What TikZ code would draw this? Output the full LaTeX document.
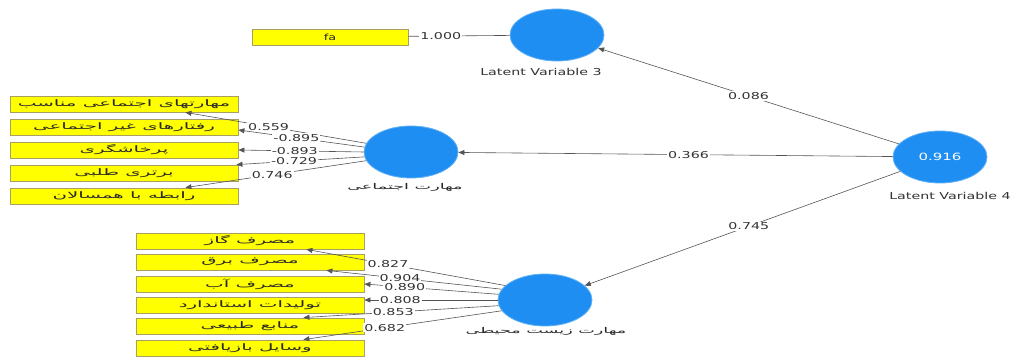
\documentclass[tikz,border=0pt]{standalone}
\usepackage{fontspec}
\setmainfont{DejaVu Sans}[FakeStretch=1.5]
\newfontfamily\fabox[Script=Arabic,FakeStretch=2.2]{DejaVu Sans}
\TeXXeTstate=1
\usetikzlibrary{arrows.meta,shapes.geometric}
\definecolor{lvblue}{HTML}{1E8EF2}
\definecolor{boxyel}{HTML}{FFFF00}
\definecolor{boxedge}{HTML}{A8A060}
\definecolor{edgecol}{HTML}{555555}
\definecolor{txt}{HTML}{333333}
\tikzset{
  lv/.style={ellipse, fill=lvblue, draw=lvblue!70!white, line width=0.8pt, minimum width=94pt, minimum height=52pt, inner sep=0pt},
  ind/.style={rectangle, fill=boxyel, draw=boxedge, line width=0.8pt, minimum width=228pt, minimum height=16pt, inner sep=0pt, text=black!85, font=\fabox\fontsize{9}{9}\selectfont},
  lvlab/.style={text=txt, font=\fontsize{9.5}{10}\selectfont},
  falab/.style={text=black!85, font=\fabox\fontsize{8}{9}\selectfont},
  coef/.style={fill=white, inner sep=1pt, text=txt, font=\fontsize{9.5}{10}\selectfont},
  link/.style={draw=edgecol, line width=0.6pt},
  arr/.style={link, -{Triangle[length=6pt,width=5pt]}}
}
\begin{document}
\begin{tikzpicture}[x=1pt,y=-1pt]
\useasboundingbox (0,0) rectangle (1034,358);
% latent variables
\node[lv] (lv3) at (557,35) {};
\node[lvlab] (lv3l) at (541,72) {Latent Variable 3};
\node[lv] (lv4) at (940,157) {\textcolor{white}{0.916}};
\node[lvlab] (lv4l) at (950,196) {Latent Variable 4};
\node[lv] (soc) at (411,152) {};
\node[falab] (socl) at (405,187) {\beginR مهارت اجتماعی\endR};
\node[lv] (env) at (545,300) {};
\node[falab] (envl) at (546,331) {\beginR مهارت زیست محیطی\endR};
% indicators
\node[ind, minimum width=156pt, font=\fontsize{8.5}{9}\selectfont] (fa) at (330,37) {fa};
\node[ind] (s1) at (124,104) {\beginR مهارتهای اجتماعی مناسب\endR};
\node[ind] (s2) at (124,127) {\beginR رفتارهای غیر اجتماعی\endR};
\node[ind] (s3) at (124,150) {\beginR پرخاشگری\endR};
\node[ind] (s4) at (124,173) {\beginR برتری طلبی\endR};
\node[ind] (s5) at (124,196) {\beginR رابطه با همسالان\endR};
\node[ind] (e1) at (250,241) {\beginR مصرف گاز\endR};
\node[ind] (e2) at (250,262) {\beginR مصرف برق\endR};
\node[ind] (e3) at (250,284) {\beginR مصرف آب\endR};
\node[ind] (e4) at (250,305) {\beginR تولیدات استاندارد\endR};
\node[ind] (e5) at (250,326) {\beginR منابع طبیعی\endR};
\node[ind] (e6) at (250,348) {\beginR وسایل بازیافتی\endR};
% structural paths
\draw[link] (fa) -- node[coef, pos=0.32] {1.000} (lv3);
\draw[arr] (lv4) -- node[coef, pos=0.5] {0.086} (lv3);
\draw[arr] (lv4) -- node[coef, pos=0.47] {0.366} (soc);
\draw[arr] (lv4) -- node[coef, pos=0.48] {0.745} (env);
% social loadings
\draw[arr] (soc.169) -- node[coef, pos=0.54] {0.559} ([xshift=-53pt]s1.south east);
\draw[arr] (soc.174) -- node[coef, pos=0.54] {-0.895} ([yshift=-3pt]s2.east);
\draw[arr] (soc.180) -- node[coef, pos=0.55] {-0.893} (s3.east);
\draw[arr] (soc.186) -- node[coef, pos=0.55] {-0.729} ([xshift=-2pt]s4.north east);
\draw[arr] (soc.191) -- node[coef, pos=0.52] {0.746} ([xshift=-53pt]s5.north east);
% environment loadings
\draw[arr] (env.160) -- node[coef, pos=0.59] {0.827} ([xshift=-58pt]e1.south east);
\draw[arr] (env.166) -- node[coef, pos=0.58] {0.904} ([xshift=-38pt]e2.south east);
\draw[arr] (env.173) -- node[coef, pos=0.70] {0.890} (e3.east);
\draw[arr] (env.180) -- node[coef, pos=0.73] {0.808} ([yshift=5pt]e4.east);
\draw[arr] (env.187) -- node[coef, pos=0.54] {0.853} ([xshift=-61pt]e5.north east);
\draw[arr] (env.194) -- node[coef, pos=0.59] {0.682} ([xshift=-61pt]e6.north east);
\end{tikzpicture}
\end{document}
